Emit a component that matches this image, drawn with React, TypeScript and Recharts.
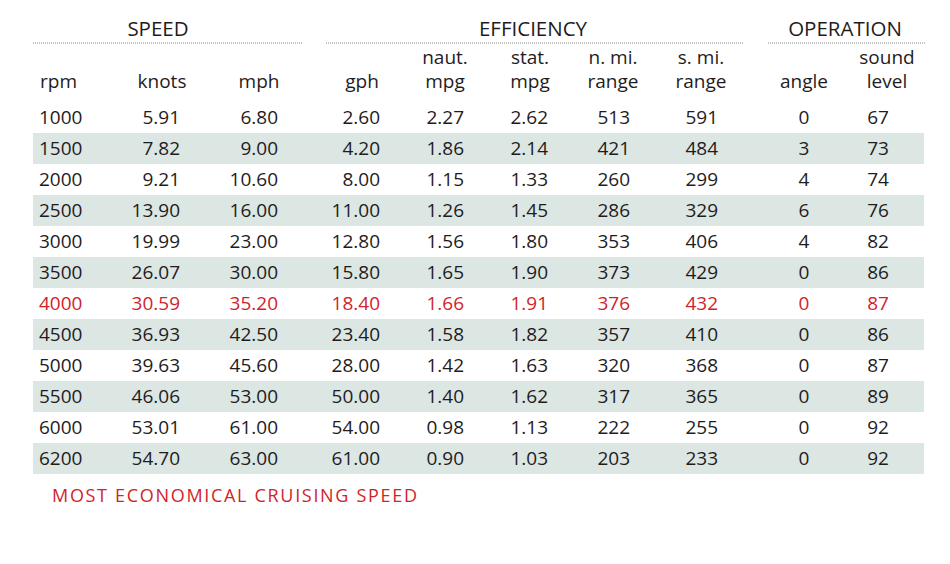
import { Bar, BarChart, Customized, XAxis, YAxis } from "recharts";

const rpm = [1000, 1500, 2000, 2500, 3000, 3500, 4000, 4500, 5000, 5500, 6000, 6200];
const knots = [5.91, 7.82, 9.21, 13.9, 19.99, 26.07, 30.59, 36.93, 39.63, 46.06, 53.01, 54.7];
const mph = [6.8, 9.0, 10.6, 16.0, 23.0, 30.0, 35.2, 42.5, 45.6, 53.0, 61.0, 63.0];
const gph = [2.6, 4.2, 8.0, 11.0, 12.8, 15.8, 18.4, 23.4, 28.0, 50.0, 54.0, 61.0];
const nautMpg = [2.27, 1.86, 1.15, 1.26, 1.56, 1.65, 1.66, 1.58, 1.42, 1.4, 0.98, 0.9];
const statMpg = [2.62, 2.14, 1.33, 1.45, 1.8, 1.9, 1.91, 1.82, 1.63, 1.62, 1.13, 1.03];
const nmiRange = [513, 421, 260, 286, 353, 373, 376, 357, 320, 317, 222, 203];
const smiRange = [591, 484, 299, 329, 406, 429, 432, 410, 368, 365, 255, 233];
const angle = [0, 3, 4, 6, 4, 0, 0, 0, 0, 0, 0, 0];
const soundLevel = [67, 73, 74, 76, 82, 86, 87, 86, 87, 89, 92, 92];

const ECONOMICAL_RPM = 4000;
const groups = ["SPEED", "EFFICIENCY", "OPERATION"];
const FOOTNOTE = "MOST ECONOMICAL CRUISING SPEED";

const DARK = "#1f1c1d";
const RED = "#d2232a";
const BAND = "#dce6e3";
const FONT = "'Open Sans', sans-serif";

// column layout: x anchor + text anchor + header lines
const columns = [
  { key: "rpm", x: 39, anchor: "start", hx: 40, hanchor: "start", head: ["", "rpm"], fmt: (v: number) => String(v) },
  { key: "knots", x: 180, anchor: "end", hx: 162, hanchor: "middle", head: ["", "knots"], fmt: (v: number) => v.toFixed(2) },
  { key: "mph", x: 278, anchor: "end", hx: 259, hanchor: "middle", head: ["", "mph"], fmt: (v: number) => v.toFixed(2) },
  { key: "gph", x: 380, anchor: "end", hx: 362, hanchor: "middle", head: ["", "gph"], fmt: (v: number) => v.toFixed(2) },
  { key: "nautMpg", x: 464, anchor: "end", hx: 445, hanchor: "middle", head: ["naut.", "mpg"], fmt: (v: number) => v.toFixed(2) },
  { key: "statMpg", x: 548, anchor: "end", hx: 530, hanchor: "middle", head: ["stat.", "mpg"], fmt: (v: number) => v.toFixed(2) },
  { key: "nmiRange", x: 630, anchor: "end", hx: 613, hanchor: "middle", head: ["n. mi.", "range"], fmt: (v: number) => String(v) },
  { key: "smiRange", x: 718, anchor: "end", hx: 701, hanchor: "middle", head: ["s. mi.", "range"], fmt: (v: number) => String(v) },
  { key: "angle", x: 804, anchor: "middle", hx: 804, hanchor: "middle", head: ["", "angle"], fmt: (v: number) => String(v) },
  { key: "soundLevel", x: 878, anchor: "middle", hx: 887, hanchor: "middle", head: ["sound", "level"], fmt: (v: number) => String(v) },
];

const groupRules = [
  { x1: 33, x2: 302, cx: 158 },
  { x1: 326, x2: 744, cx: 533 },
  { x1: 768, x2: 926, cx: 845 },
];

const data = rpm.map((r, i) => ({
  rpm: r,
  knots: knots[i],
  mph: mph[i],
  gph: gph[i],
  nautMpg: nautMpg[i],
  statMpg: statMpg[i],
  nmiRange: nmiRange[i],
  smiRange: smiRange[i],
  angle: angle[i],
  soundLevel: soundLevel[i],
  shaded: i % 2 === 1,
  band: 1,
}));

function RowShape(props: any) {
  const { x, y, width, height, payload } = props;
  const color = payload.rpm === ECONOMICAL_RPM ? RED : DARK;
  const base = y + height / 2 + 6.5;
  return (
    <g>
      <rect x={x} y={y} width={width} height={height} fill={payload.shaded ? BAND : "none"} />
      {columns.map((c) => (
        <text
          key={c.key}
          x={c.x}
          y={base}
          textAnchor={c.anchor as any}
          fill={color}
          fontSize={19}
          fontFamily={FONT}
        >
          {c.fmt(payload[c.key])}
        </text>
      ))}
    </g>
  );
}

function Headers() {
  return (
    <g fontFamily={FONT} fill={DARK}>
      {groups.map((g, i) => (
        <g key={g}>
          <text x={groupRules[i].cx} y={36} textAnchor="middle" fontSize={20.5}>
            {g}
          </text>
          <line
            x1={groupRules[i].x1}
            x2={groupRules[i].x2}
            y1={43}
            y2={43}
            stroke="#8a8a8a"
            strokeWidth={1}
            strokeDasharray="1 1"
          />
        </g>
      ))}
      {columns.map((c) => (
        <g key={c.key} fontSize={19}>
          {c.head[0] && (
            <text x={c.hx} y={64} textAnchor={c.hanchor as any}>
              {c.head[0]}
            </text>
          )}
          <text x={c.hx} y={88} textAnchor={c.hanchor as any}>
            {c.head[1]}
          </text>
        </g>
      ))}
      <text x={52} y={502} fontSize={18} fill={RED} textLength={365} lengthAdjust="spacing">
        {FOOTNOTE}
      </text>
    </g>
  );
}

export default function App() {
  return (
    <div style={{ position: "absolute", left: 0, top: 0, width: 950, height: 564, background: "#fff" }}>
      <BarChart
        width={950}
        height={564}
        data={data}
        layout="vertical"
        margin={{ top: 102, right: 26, bottom: 90, left: 33 }}
        barCategoryGap={0}
      >
        <XAxis type="number" domain={[0, 1]} hide />
        <YAxis type="category" dataKey="rpm" hide />
        <Bar dataKey="band" shape={<RowShape />} isAnimationActive={false} />
        <Customized component={<Headers />} />
      </BarChart>
    </div>
  );
}
